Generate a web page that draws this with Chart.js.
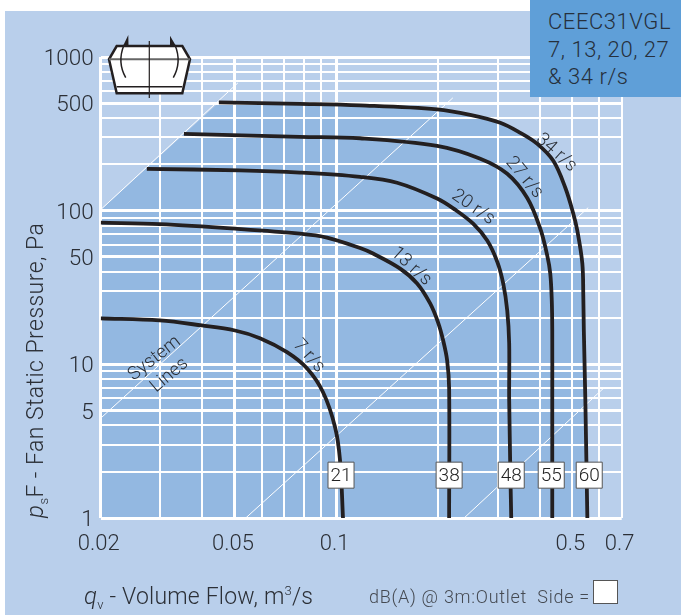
<!DOCTYPE html>
<html><head><meta charset="utf-8">
<script src="https://cdn.jsdelivr.net/npm/chart.js@4"></script>
<style>
html,body{margin:0;padding:0;background:#fff;width:681px;height:616px;overflow:hidden}
body{position:relative;font-family:Roboto,"Liberation Sans",sans-serif;font-weight:300;color:#2b2f36}
#bg{position:absolute;left:5px;top:11px;width:676px;height:604px;background:#b9cfeb}
#wrap{position:absolute;left:0;top:0;width:681px;height:616px}
#tag{position:absolute;left:530px;top:0;width:151px;height:97px;background:#5f9fd8;font-size:22px;letter-spacing:.55px;line-height:27.5px;padding:8px 0 0 18px;box-sizing:border-box;color:#26303c}
#xt{position:absolute;left:84px;top:582px;font-size:23px;letter-spacing:.2px;line-height:28px;white-space:nowrap}
#xt i{font-size:24px}#xt sub{font-size:13px;line-height:0;vertical-align:-5px}#xt sup{font-size:13px;line-height:0;vertical-align:9px}
#yt{position:absolute;left:42px;top:518px;font-size:23px;letter-spacing:.45px;line-height:28px;white-space:nowrap;transform-origin:0 0;transform:rotate(-90deg) translateY(-21px)}
#yt i{font-size:24px}#yt sub{font-size:13px;line-height:0;vertical-align:-5px}
#note{position:absolute;left:369px;top:587px;font-size:18px;letter-spacing:.72px;line-height:20px;white-space:pre;color:#454a52}
#swatch{position:absolute;left:593px;top:580px;width:23px;height:22px;background:#fff;border:1px solid #555}
#fan{position:absolute;left:0;top:0}
</style></head><body>
<div id="bg"></div>
<div id="wrap"><canvas id="c" width="681" height="616"></canvas></div>
<svg id="fan" width="681" height="616">
<path d="M116.7 46H182.3L190 59.3L182.3 93.3H116.7L109 59.3Z" fill="#fff" stroke="#231f20" stroke-width="2.5"/>
<path d="M109 59.3H190" stroke="#666" stroke-width="2" fill="none"/>
<path d="M116.7 86.7H182.3" stroke="#231f20" stroke-width="1.5" fill="none"/>
<path d="M149.3 41V98" stroke="#231f20" stroke-width="1.2" fill="none"/>
<path d="M125.7 77.7Q117 62 124 45M173.3 77.7Q182 62 175 45" stroke="#231f20" stroke-width="1.5" fill="none"/>
<path d="M128.3 35L123 46H128.5ZM170 35.7L170 46H176Z" fill="#231f20"/>
</svg>
<div id="tag">CEEC31VGL<br>7, 13, 20, 27<br>&amp; 34 r/s</div>
<div id="yt"><i>p</i><sub>s</sub>F - Fan Static Pressure, Pa</div>
<div id="xt"><i>q</i><sub>v</sub> - Volume Flow, m<sup>3</sup>/s</div>
<div id="note">dB(A) @ 3m:Outlet  Side =</div>
<div id="swatch"></div>
<script>
const xGrid=[0.02,0.03,0.04,0.05,0.06,0.07,0.08,0.09,0.1,0.2,0.3,0.4,0.5,0.6,0.7];
const yGrid=[1,2,3,4,5,6,7,8,9,10,20,30,40,50,60,70,80,90,100,200,300,400,500,600,700,800,900,1000];
const xLabels=[0.02,0.05,0.1,0.5,0.7];
const yLabels=[1,5,10,50,100,500,1000];
const xHeavy=[0.02,0.05,0.1];
const yHeavy=[1,5,10,50,100,500,1000];

const q34=[0.0448,0.0779,0.1174,0.1986,0.2489,0.3056,0.3502,0.3934,0.4389,0.4764,0.5031,0.5171,0.5351,0.5386,0.5406,0.5462,0.5537];
const p34=[506,495,484,456,420,373,321,272,211,141,95.6,74.2,45.3,28.1,16.6,5.84,1];
const q27=[0.0353,0.0779,0.1174,0.1986,0.2666,0.3205,0.3675,0.4016,0.4212,0.4299,0.4344,0.4358,0.4358,0.4358];
const p27=[316,302,296,264,218,174,121,76.4,51,39,26,16.6,5.84,1];
const q20=[0.0274,0.0517,0.0779,0.1174,0.1511,0.1986,0.2246,0.2540,0.2796,0.2993,0.3118,0.3205,0.3248,0.3248,0.3294];
const p20=[187,183,177,166,152,120,101.5,82.3,63.9,46.6,33.6,22.4,13.7,5.84,1];
const q13=[0.02,0.0299,0.05,0.0779,0.0937,0.1174,0.1283,0.1543,0.1733,0.1894,0.2,0.207,0.2127,0.2156,0.2156];
const p13=[83.6,81.7,76.4,70.9,66.8,57.1,52.6,42,33.6,24.9,18.7,14.3,10.6,6.98,1];
const q7=[0.02,0.0299,0.0399,0.05,0.0593,0.0713,0.0817,0.0912,0.099,0.1024,0.1045];
const p7=[19.9,19.3,17.9,16.6,14.8,12,9.42,6.58,3.9,2.38,1];

const sysQ=[[0.02,0.051],[0.02,0.2211],[0.0538,0.557],[0.2388,0.618]];
const sysP=[[101.5,678],[4.46,542],[1,104.6],[1,6.98]];

const dbaQ=[0.1031,0.2156,0.3294,0.4328,0.5609];
const dbaP=[1.9,1.9,1.9,1.9,1.9];
const dbaV=['21','38','48','55','60'];

const speedText=['34 r/s','27 r/s','20 r/s','13 r/s','7 r/s','System','Lines'];
const speedQ=[0.448,0.360,0.254,0.1663,0.0828,0.0289,0.0320];
const speedP=[238,164,105,43.3,11.3,10.9,8.48];
const speedAngle=[42,50,35,42,48,-38,-40];

const zip=(a,b)=>a.map((v,i)=>({x:v,y:b[i]}));
const curve=(a,b)=>({data:zip(a,b),showLine:true,borderColor:'#231f20',borderWidth:3.8,pointRadius:0,tension:0.35,fill:false,order:2});
const sys=(i)=>({data:zip(sysQ[i],sysP[i]),showLine:true,borderColor:'#ffffff',borderWidth:1,pointRadius:0,order:3});

const regionPlugin={id:'region',beforeDraw(ch){
  const {ctx,scales:{x,y}}=ch;
  ctx.save();ctx.fillStyle='#93b8e1';ctx.beginPath();
  ctx.moveTo(x.getPixelForValue(0.02),y.getPixelForValue(1));
  ctx.lineTo(x.getPixelForValue(0.02),y.getPixelForValue(sysP[0][0]));
  q34.forEach((q,i)=>ctx.lineTo(x.getPixelForValue(q),y.getPixelForValue(p34[i])));
  ctx.closePath();ctx.fill();ctx.restore();
}};
const textPlugin={id:'texts',afterDatasetsDraw(ch){
  const {ctx,scales:{x,y}}=ch;
  ctx.save();ctx.textAlign='center';ctx.textBaseline='middle';ctx.fillStyle='#2b2f36';
  ctx.font='300 18.5px Roboto, "Liberation Sans", sans-serif';
  speedText.forEach((t,i)=>{
    ctx.save();ctx.translate(x.getPixelForValue(speedQ[i]),y.getPixelForValue(speedP[i]));
    ctx.rotate(speedAngle[i]*Math.PI/180);ctx.fillText(t,0,0);ctx.restore();
  });
  ctx.font='300 19px Roboto, "Liberation Sans", sans-serif';ctx.fillStyle='#222';
  dbaV.forEach((t,i)=>ctx.fillText(t,x.getPixelForValue(dbaQ[i]),y.getPixelForValue(dbaP[i])+1));
  ctx.restore();
}};

new Chart(document.getElementById('c'),{
  type:'scatter',
  data:{datasets:[
    {data:zip(dbaQ,dbaP),pointStyle:'rect',pointRadius:18.4,pointBackgroundColor:'#fff',pointBorderColor:'#555',pointBorderWidth:1,showLine:false,order:1},
    curve(q34,p34),curve(q27,p27),curve(q20,p20),curve(q13,p13),curve(q7,p7),
    sys(0),sys(1),sys(2),sys(3)
  ]},
  plugins:[regionPlugin,textPlugin],
  options:{
    responsive:false,animation:false,events:[],
    layout:{padding:{top:57,right:59.3,left:0,bottom:0}},
    plugins:{legend:{display:false},tooltip:{enabled:false}},
    scales:{
      x:{type:'logarithmic',min:0.02,max:0.7,border:{display:false},
        afterBuildTicks(s){s.ticks=xGrid.map(v=>({value:v}));},
        afterFit(s){s.height=98;},
        grid:{color:'#fff',drawTicks:false,lineWidth:c=>xHeavy.includes(c.tick&&c.tick.value)?3:2},
        ticks:{autoSkip:false,maxRotation:0,padding:13,labelOffset:-2,color:'#2b2f36',font:{family:'Roboto, "Liberation Sans", sans-serif',size:22,weight:'300'},
          callback:v=>xLabels.includes(v)?String(v):''}},
      y:{type:'logarithmic',min:1,max:1000,border:{display:false},
        afterBuildTicks(s){s.ticks=yGrid.map(v=>({value:v}));},
        afterFit(s){s.width=100.7;},
        grid:{color:'#fff',drawTicks:false,lineWidth:c=>yHeavy.includes(c.tick&&c.tick.value)?3:2},
        ticks:{autoSkip:false,padding:7,labelOffset:2.5,color:'#2b2f36',font:{family:'Roboto, "Liberation Sans", sans-serif',size:22.5,weight:'300'},
          callback:v=>yLabels.includes(v)?String(v):''}}
    }
  }
});
</script>
</body></html>
